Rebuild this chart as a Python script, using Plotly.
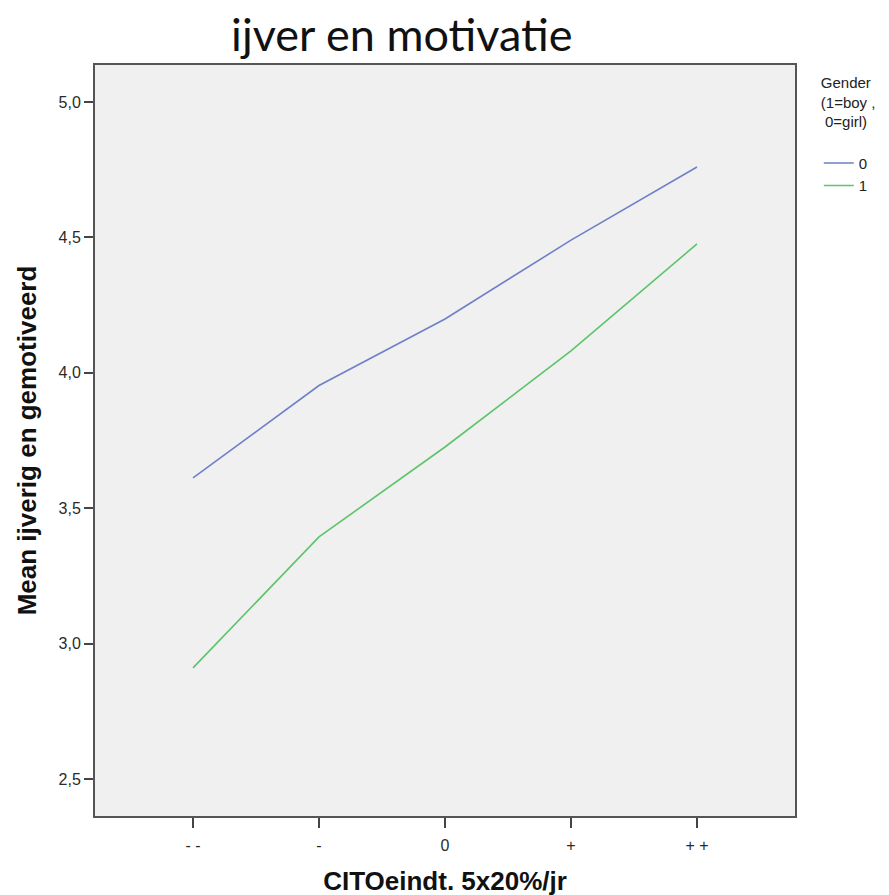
import plotly.graph_objects as go

categories = ["- -", "-", "0", "+", "+ +"]
girls_0 = [3.612, 3.953, 4.199, 4.490, 4.760]
boys_1 = [2.910, 3.394, 3.726, 4.081, 4.476]
y_ticks = [2.5, 3.0, 3.5, 4.0, 4.5, 5.0]

x_idx = list(range(len(categories)))

fig = go.Figure()
fig.add_trace(go.Scatter(x=x_idx, y=girls_0, mode="lines", name="0",
                         line=dict(color="#6f80c9", width=1.6)))
fig.add_trace(go.Scatter(x=x_idx, y=boys_1, mode="lines", name="1",
                         line=dict(color="#5cc46a", width=1.6)))

sans = "Liberation Sans, Arial, sans-serif"

fig.update_layout(
    width=889, height=895,
    margin=dict(l=87, r=102, t=57, b=87, autoexpand=False),
    paper_bgcolor="white",
    plot_bgcolor="#f0f0f0",
    separators=",.",
    title=dict(text="ijver en motivatie", x=0.443, xanchor="center",
               y=0.9693, yanchor="middle",
               font=dict(family="Lato, Open Sans, sans-serif", size=45, color="#111")),
    font=dict(family=sans, size=16, color="#333"),
    showlegend=True,
    legend=dict(
        title=dict(text="Gender<br>(1=boy ,<br> 0=girl)<br> ",
                   font=dict(family=sans, size=15, color="#222")),
        x=1.034, xanchor="left", y=0.995, yanchor="top",
        bgcolor="rgba(0,0,0,0)",
        font=dict(family=sans, size=15, color="#222"),
        itemwidth=30,
        tracegroupgap=0,
    ),
)

fig.update_xaxes(
    range=[-0.778, 4.778],
    tickmode="array", tickvals=x_idx, ticktext=categories,
    showgrid=False, zeroline=False, automargin=False,
    showline=True, linecolor="#555", linewidth=2, mirror=True,
    ticks="outside", ticklen=10, tickwidth=1.5, tickcolor="#444",
    ticklabelstandoff=4,
    tickfont=dict(size=16, color="#2a2a2a"),
    title=dict(text="<b>CITOeindt. 5x20%/jr</b>", standoff=19,
               font=dict(family=sans, size=26, color="#111")),
)
fig.update_yaxes(
    range=[2.363, 5.137],
    tickmode="array", tickvals=y_ticks, tickformat=".1f",
    showgrid=False, zeroline=False, automargin=False,
    showline=True, linecolor="#555", linewidth=2, mirror=True,
    ticks="outside", ticklen=9, tickwidth=1.5, tickcolor="#444",
    tickfont=dict(size=16, color="#2a2a2a"),
    title=dict(text="<b>Mean ijverig en gemotiveerd</b>", standoff=14,
               font=dict(family=sans, size=26, color="#111")),
)

fig.write_html("out.html")
